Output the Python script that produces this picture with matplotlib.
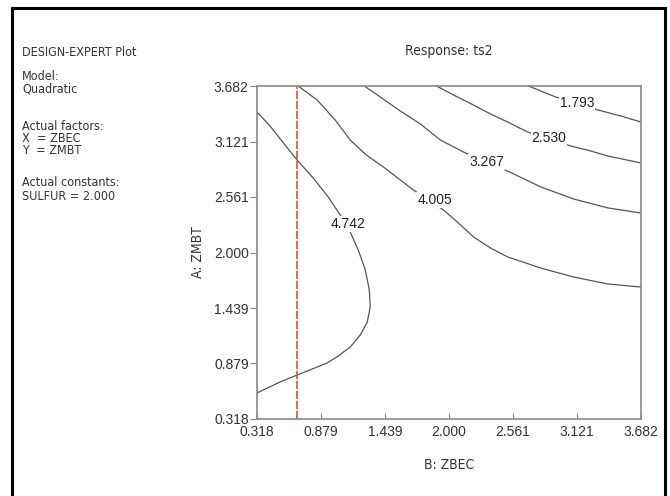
import numpy as np
import matplotlib.pyplot as plt
from matplotlib.lines import Line2D

# Ticks (actual factor values)
ticks = [0.318, 0.879, 1.439, 2.000, 2.561, 3.121, 3.682]

# Contour lines (x = B: ZBEC, y = A: ZMBT)
levels = ["4.742", "4.005", "3.267", "2.530", "1.793"]

c4742_x = [0.318, 0.432, 0.564, 0.669, 0.810, 0.942, 1.047, 1.135, 1.205, 1.267, 1.302, 1.310,
           1.284, 1.223, 1.135, 1.029, 0.933, 0.801, 0.669, 0.520, 0.318]
c4742_y = [3.419, 3.278, 3.086, 2.934, 2.753, 2.561, 2.379, 2.207, 2.025, 1.823, 1.621, 1.449,
           1.298, 1.167, 1.045, 0.954, 0.884, 0.823, 0.762, 0.692, 0.581]

c4005_x = [0.678, 0.845, 1.003, 1.135, 1.275, 1.425, 1.574, 1.688, 1.820, 1.952, 2.083, 2.215,
           2.364, 2.514, 2.804, 3.093, 3.392, 3.682]
c4005_y = [3.682, 3.541, 3.338, 3.136, 2.985, 2.864, 2.732, 2.631, 2.530, 2.429, 2.298, 2.157,
           2.045, 1.955, 1.843, 1.752, 1.682, 1.651]

c3267_x = [1.258, 1.398, 1.574, 1.750, 1.925, 2.127, 2.321, 2.514, 2.804, 3.093, 3.392, 3.682]
c3267_y = [3.682, 3.571, 3.429, 3.298, 3.136, 3.015, 2.914, 2.823, 2.662, 2.540, 2.450, 2.399]

c2530_x = [1.890, 2.057, 2.215, 2.364, 2.514, 2.689, 2.874, 3.067, 3.243, 3.392, 3.682]
c2530_y = [3.682, 3.581, 3.490, 3.399, 3.318, 3.217, 3.147, 3.076, 3.025, 2.975, 2.904]

c1793_x = [2.698, 2.804, 2.935, 3.120, 3.304, 3.506, 3.682]
c1793_y = [3.682, 3.631, 3.571, 3.510, 3.440, 3.379, 3.318]

# where the contour values are written
label_x = [1.117, 1.873, 2.329, 2.874, 3.120]
label_y = [2.288, 2.530, 2.914, 3.157, 3.510]

# red vertical line (ZBEC)
red_x = 0.669

narrow = dict(family='DejaVu Sans', fontstretch='condensed')
plain = ['Liberation Sans', 'DejaVu Sans']
txtcol = '#333333'

fig = plt.figure(figsize=(6.7, 4.96), dpi=100)
ax = fig.add_axes([257/670, 1-419/496, 384/670, 333/496])

lines = [(c4742_x, c4742_y), (c4005_x, c4005_y), (c3267_x, c3267_y),
         (c2530_x, c2530_y), (c1793_x, c1793_y)]
for cx, cy in lines:
    ax.plot(cx, cy, color='#555555', lw=0.9)

ax.axvline(red_x, color='#d9532b', lw=1.2, ls=(0, (5, 1)))

for lab, lx, ly in zip(levels, label_x, label_y):
    ax.text(lx, ly, lab, ha='center', va='center', fontsize=10, family=plain, color='#222222',
            bbox=dict(facecolor='white', edgecolor='none', pad=0.5))

ax.set_xlim(ticks[0], ticks[-1])
ax.set_ylim(ticks[0], ticks[-1])
ax.set_xticks(ticks)
ax.set_yticks(ticks)
ax.set_xticklabels([f"{t:.3f}" for t in ticks], family=plain, fontsize=10, color=txtcol)
ax.set_yticklabels([f"{t:.3f}" for t in ticks], family=plain, fontsize=10, color=txtcol)
ax.tick_params(axis='y', direction='out', length=5, color='#888888', pad=1)
ax.tick_params(axis='x', direction='in', length=4, color='#888888', pad=4)
for s in ax.spines.values():
    s.set_color('#888888')
    s.set_linewidth(1.2)

ax.set_xlabel("B: ZBEC", fontsize=10, color=txtcol, labelpad=14, **narrow)
ax.set_ylabel("A: ZMBT", fontsize=10, color=txtcol, labelpad=6, **narrow)
ax.set_title("Response: ts2", fontsize=10, color=txtcol, pad=22, **narrow)

# left side info panel
info = [("DESIGN-EXPERT Plot", 52), ("Model:", 76), ("Quadratic", 89),
        ("Actual factors:", 126), ("X  = ZBEC", 139), ("Y  = ZMBT", 151),
        ("Actual constants:", 183), ("SULFUR = 2.000", 196)]
for s, py in info:
    fig.text(22/670, 1-py/496, s, fontsize=9, color=txtcol, va='center', **narrow)

# outer frame (open at the bottom)
fx0, fx1, fy = 12/670, 665/670, 1-8/496
fig.add_artist(Line2D([fx0, fx0], [0, fy], color='black', lw=2.2))
fig.add_artist(Line2D([fx1, fx1], [0, fy], color='black', lw=2.2))
fig.add_artist(Line2D([fx0, fx1], [fy, fy], color='black', lw=2.2))

fig.savefig("out.png", dpi=100)
